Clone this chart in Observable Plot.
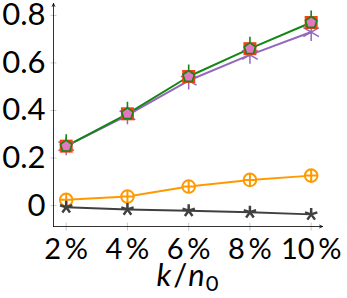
<!DOCTYPE html>
<html>
<head>
<meta charset="utf-8">
<script src="https://cdn.jsdelivr.net/npm/d3@7"></script>
<script src="https://cdn.jsdelivr.net/npm/@observablehq/plot@0.6"></script>
<style>
  html, body { margin: 0; padding: 0; background: #fff; }
  #chart svg { display: block; overflow: visible; }
</style>
</head>
<body>
<div id="chart"></div>
<script>
// ---- data ----
const ratios = [2, 4, 6, 8, 10];               // k/n0 in %
const yTicks = [0, 0.2, 0.4, 0.6, 0.8];
const xTickLabels = ["2\u2009%", "4\u2009%", "6\u2009%", "8\u2009%", "10\u2009%"];
const redSquare = [0.25, 0.386, 0.543, 0.66, 0.77];
const greenPent = [0.25, 0.386, 0.543, 0.66, 0.77];
const pinkPent  = [0.25, 0.386, 0.543, 0.66, 0.77];
const purpleAst = [0.25, 0.38, 0.526, 0.634, 0.73];
const orangeCirc = [0.024, 0.038, 0.08, 0.108, 0.126];
const grayStar  = [-0.007, -0.016, -0.022, -0.028, -0.037];

// ---- helpers ----
const rows = vals => ratios.map((x, i) => ({x, y: vals[i]}));
const xDomain = [1.585, 10.37];
const yDomain = [-0.088, 0.85];
const font = "Lato";

const rOf = size => Math.sqrt(size / Math.PI);
const pentagon = {draw(c, size) {
  const r = rOf(size);
  for (let i = 0; i < 5; i++) {
    const a = -Math.PI / 2 + i * 2 * Math.PI / 5;
    i ? c.lineTo(r * Math.cos(a), r * Math.sin(a)) : c.moveTo(r * Math.cos(a), r * Math.sin(a));
  }
  c.closePath();
}};
const pentagonTick = {draw(c, size) {
  pentagon.draw(c, size);
  const r = rOf(size);
  c.moveTo(0, -r); c.lineTo(0, -r - 6);
}};
const squareSym = {draw(c, size) {
  const r = rOf(size);
  c.rect(-r, -r, 2 * r, 2 * r);
}};
const star5 = {draw(c, size) {
  const r = rOf(size);
  for (let i = 0; i < 5; i++) {
    const a = -Math.PI / 2 + i * 2 * Math.PI / 5;
    c.moveTo(0, 0); c.lineTo(r * Math.cos(a), r * Math.sin(a));
  }
}};
const ast6 = {draw(c, size) {
  const r = rOf(size);
  for (let i = 0; i < 6; i++) {
    const a = -Math.PI / 2 + i * Math.PI / 3;
    c.moveTo(0, 0); c.lineTo(r * Math.cos(a), r * Math.sin(a));
  }
}};
const oplus = {draw(c, size) {
  const r = rOf(size);
  c.moveTo(r, 0); c.arc(0, 0, r, 0, 2 * Math.PI);
  c.moveTo(-r, 0); c.lineTo(r, 0);
  c.moveTo(0, -r); c.lineTo(0, r);
}};
const hTick = {draw(c) { c.moveTo(-3, 0); c.lineTo(3, 0); }};
const vTick = {draw(c) { c.moveTo(0, -4); c.lineTo(0, 4); }};

const C = {
  red: "#f4411a", green: "#138613", pink: "#e377c2", purple: "#9467bd",
  orange: "#ff9900", gray: "#404040"
};

const plot = Plot.plot({
  width: 347,
  height: 298,
  marginLeft: 53,
  marginRight: 25,
  marginTop: 3,
  marginBottom: 72,
  style: {background: "#fff", overflow: "visible", fontFamily: font},
  x: {domain: xDomain, label: null},
  y: {domain: yDomain, label: null},
  marks: [
    Plot.dot(yTicks, {x: () => xDomain[0], y: d => d, symbol: hTick, r: 3, stroke: "#bbb", strokeWidth: 0.8}),
    Plot.dot(ratios, {x: d => d, y: () => yDomain[0], symbol: vTick, r: 3, stroke: "#bbb", strokeWidth: 0.8}),
    Plot.axisY(yTicks, {tickSize: 0, tickPadding: 8, fontSize: 31, fill: "black", label: null,
      tickFormat: d => d === 0 ? "0" : d.toFixed(1)}),
    Plot.axisX(ratios, {tickSize: 0, tickPadding: 12, fontSize: 29, fill: "black", label: null,
      tickFormat: (d, i) => xTickLabels[i]}),
    Plot.arrow([0], {x1: xDomain[0], y1: yDomain[0], x2: xDomain[1], y2: yDomain[0],
      stroke: "black", strokeWidth: 0.8, headLength: 6, headAngle: 50}),
    Plot.arrow([0], {x1: xDomain[0], y1: yDomain[0], x2: xDomain[0], y2: yDomain[1],
      stroke: "black", strokeWidth: 0.8, headLength: 6, headAngle: 50}),
    Plot.line(rows(orangeCirc), {x: "x", y: "y", stroke: C.orange, strokeWidth: 2}),
    Plot.dot(rows(orangeCirc), {x: "x", y: "y", symbol: oplus, r: 6.3, stroke: C.orange, fill: "white", strokeWidth: 2}),
    Plot.line(rows(grayStar), {x: "x", y: "y", stroke: C.gray, strokeWidth: 2}),
    Plot.dot(rows(grayStar), {x: "x", y: "y", symbol: star5, r: 6.5, stroke: C.gray, strokeWidth: 2.5}),
    Plot.line(rows(purpleAst), {x: "x", y: "y", stroke: C.purple, strokeWidth: 2}),
    Plot.line(rows(greenPent), {x: "x", y: "y", stroke: C.green, strokeWidth: 2}),
    Plot.dot(rows(purpleAst), {x: "x", y: "y", symbol: ast6, r: 9, stroke: C.purple, strokeWidth: 1.5}),
    Plot.dot(rows(redSquare), {x: "x", y: "y", symbol: squareSym, r: 6.5, fill: C.red, stroke: "none"}),
    Plot.dot(rows(pinkPent), {x: "x", y: "y", symbol: pentagon, r: 5.5, fill: C.pink, stroke: "none"}),
    Plot.dot(rows(greenPent), {x: "x", y: "y", symbol: pentagonTick, r: 6, fill: "none", stroke: C.green, strokeWidth: 1.6})
  ]
});

// x-axis label  k/n₀
const svg = d3.select(plot);
const cx = (53 + 347 - 25) / 2;
const lab = svg.append("text")
  .attr("x", cx).attr("y", 286)
  .attr("text-anchor", "middle")
  .attr("font-size", 31)
  .attr("fill", "black");
lab.append("tspan").attr("font-style", "italic").text("k");
lab.append("tspan").attr("dx", 2).text("/");
lab.append("tspan").attr("dx", 1).attr("font-style", "italic").text("n");
lab.append("tspan").attr("dx", 1).attr("dy", 5).attr("font-size", 22).text("0");

svg.selectAll("text").attr("font-family", font).style("font-family", font);

document.getElementById("chart").appendChild(plot);
</script>
</body>
</html>
